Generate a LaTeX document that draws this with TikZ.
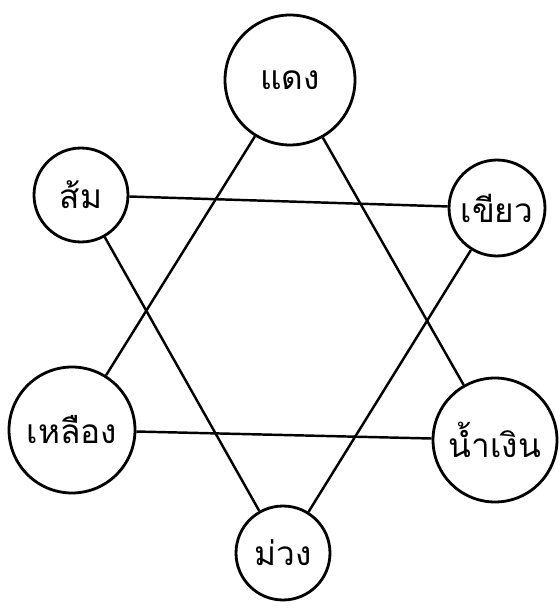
\documentclass[tikz,border=0pt]{standalone}
\usepackage{fontspec}
\newfontfamily\thaifont[Script=Thai]{Loma}
\begin{document}
\begin{tikzpicture}[x=0.02cm,y=-0.02cm,every node/.style={draw,circle,line width=1.6pt,font=\thaifont\fontsize{19}{23}\selectfont,inner sep=0pt}]
\useasboundingbox (0,0) rectangle (560,611);
\node[minimum size=2.6cm] (daeng) at (290,80) {แดง};
\node[minimum size=1.88cm] (som) at (81,195) {ส้ม};
\node[minimum size=1.92cm] (khiao) at (497,208) {เขียว};
\node[minimum size=2.52cm] (lueang) at (72,430) {เหลือง};
\node[minimum size=2.48cm] (namngoen) at (495,440) {น้ำเงิน};
\node[minimum size=1.88cm] (muang) at (283,553) {ม่วง};
\foreach \u/\v in {daeng/lueang,daeng/namngoen,lueang/namngoen,som/khiao,som/muang,khiao/muang}
  \draw[line width=1.4pt] (\u)--(\v);
\end{tikzpicture}
\end{document}
